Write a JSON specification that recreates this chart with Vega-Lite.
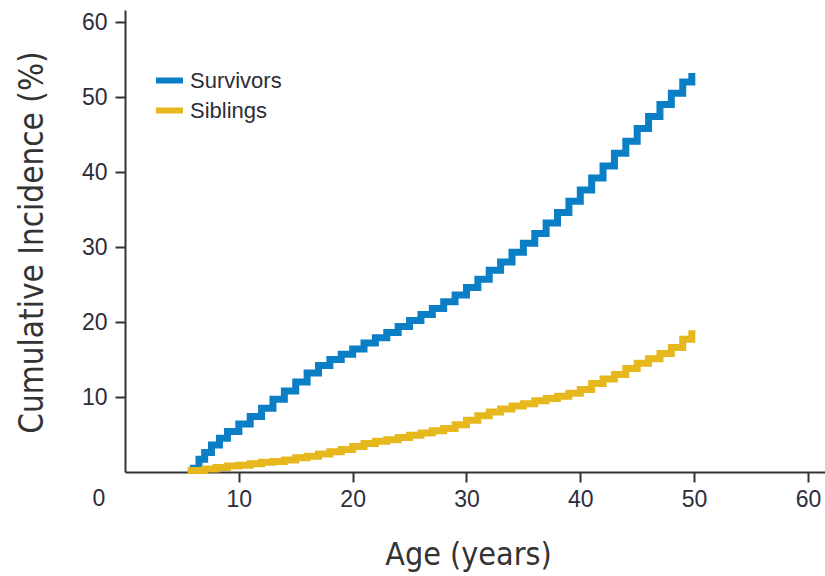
{
  "$schema": "https://vega.github.io/schema/vega-lite/v6.json",
  "width": 700,
  "height": 462,
  "autosize": {"type": "none"},
  "padding": {"left": 125, "top": 10, "right": 0, "bottom": 104},
  "background": "white",
  "config": {"view": {"stroke": null}},
  "datasets": {
    "curves": [
      {"group": "Survivors", "age": 5.7, "pct": 0.5},
      {"group": "Survivors", "age": 6.5, "pct": 1.7},
      {"group": "Survivors", "age": 7.0, "pct": 2.6},
      {"group": "Survivors", "age": 7.6, "pct": 3.6},
      {"group": "Survivors", "age": 8.3, "pct": 4.5},
      {"group": "Survivors", "age": 9.0, "pct": 5.4},
      {"group": "Survivors", "age": 10.0, "pct": 6.4},
      {"group": "Survivors", "age": 11.0, "pct": 7.4},
      {"group": "Survivors", "age": 12.0, "pct": 8.5},
      {"group": "Survivors", "age": 13.0, "pct": 9.7},
      {"group": "Survivors", "age": 14.0, "pct": 10.8},
      {"group": "Survivors", "age": 15.0, "pct": 12.0},
      {"group": "Survivors", "age": 16.0, "pct": 13.2},
      {"group": "Survivors", "age": 17.0, "pct": 14.2},
      {"group": "Survivors", "age": 18.0, "pct": 15.0},
      {"group": "Survivors", "age": 19.0, "pct": 15.7},
      {"group": "Survivors", "age": 20.0, "pct": 16.4},
      {"group": "Survivors", "age": 21.0, "pct": 17.2},
      {"group": "Survivors", "age": 22.0, "pct": 17.9},
      {"group": "Survivors", "age": 23.0, "pct": 18.6},
      {"group": "Survivors", "age": 24.0, "pct": 19.4},
      {"group": "Survivors", "age": 25.0, "pct": 20.2},
      {"group": "Survivors", "age": 26.0, "pct": 21.0},
      {"group": "Survivors", "age": 27.0, "pct": 21.8},
      {"group": "Survivors", "age": 28.0, "pct": 22.7},
      {"group": "Survivors", "age": 29.0, "pct": 23.6},
      {"group": "Survivors", "age": 30.0, "pct": 24.6},
      {"group": "Survivors", "age": 31.0, "pct": 25.7},
      {"group": "Survivors", "age": 32.0, "pct": 26.9},
      {"group": "Survivors", "age": 33.0, "pct": 28.0},
      {"group": "Survivors", "age": 34.0, "pct": 29.3},
      {"group": "Survivors", "age": 35.0, "pct": 30.5},
      {"group": "Survivors", "age": 36.0, "pct": 31.8},
      {"group": "Survivors", "age": 37.0, "pct": 33.2},
      {"group": "Survivors", "age": 38.0, "pct": 34.6},
      {"group": "Survivors", "age": 39.0, "pct": 36.1},
      {"group": "Survivors", "age": 40.0, "pct": 37.6},
      {"group": "Survivors", "age": 41.0, "pct": 39.2},
      {"group": "Survivors", "age": 42.0, "pct": 40.8},
      {"group": "Survivors", "age": 43.0, "pct": 42.5},
      {"group": "Survivors", "age": 44.0, "pct": 44.1},
      {"group": "Survivors", "age": 45.0, "pct": 45.8},
      {"group": "Survivors", "age": 46.0, "pct": 47.4},
      {"group": "Survivors", "age": 47.0, "pct": 49.0},
      {"group": "Survivors", "age": 48.0, "pct": 50.5},
      {"group": "Survivors", "age": 49.0, "pct": 52.0},
      {"group": "Survivors", "age": 49.8, "pct": 53.2},
      {"group": "Siblings", "age": 5.5, "pct": 0.2},
      {"group": "Siblings", "age": 7.0, "pct": 0.4},
      {"group": "Siblings", "age": 8.0, "pct": 0.6},
      {"group": "Siblings", "age": 9.0, "pct": 0.8},
      {"group": "Siblings", "age": 10.0, "pct": 0.9},
      {"group": "Siblings", "age": 11.0, "pct": 1.1},
      {"group": "Siblings", "age": 12.0, "pct": 1.3},
      {"group": "Siblings", "age": 13.0, "pct": 1.4},
      {"group": "Siblings", "age": 14.0, "pct": 1.6},
      {"group": "Siblings", "age": 15.0, "pct": 1.9},
      {"group": "Siblings", "age": 16.0, "pct": 2.1},
      {"group": "Siblings", "age": 17.0, "pct": 2.4},
      {"group": "Siblings", "age": 18.0, "pct": 2.7},
      {"group": "Siblings", "age": 19.0, "pct": 3.0},
      {"group": "Siblings", "age": 20.0, "pct": 3.4},
      {"group": "Siblings", "age": 21.0, "pct": 3.8},
      {"group": "Siblings", "age": 22.0, "pct": 4.1},
      {"group": "Siblings", "age": 23.0, "pct": 4.3},
      {"group": "Siblings", "age": 24.0, "pct": 4.6},
      {"group": "Siblings", "age": 25.0, "pct": 4.9},
      {"group": "Siblings", "age": 26.0, "pct": 5.2},
      {"group": "Siblings", "age": 27.0, "pct": 5.5},
      {"group": "Siblings", "age": 28.0, "pct": 5.8},
      {"group": "Siblings", "age": 29.0, "pct": 6.3},
      {"group": "Siblings", "age": 30.0, "pct": 6.9},
      {"group": "Siblings", "age": 31.0, "pct": 7.5},
      {"group": "Siblings", "age": 32.0, "pct": 8.0},
      {"group": "Siblings", "age": 33.0, "pct": 8.4},
      {"group": "Siblings", "age": 34.0, "pct": 8.8},
      {"group": "Siblings", "age": 35.0, "pct": 9.1},
      {"group": "Siblings", "age": 36.0, "pct": 9.5},
      {"group": "Siblings", "age": 37.0, "pct": 9.8},
      {"group": "Siblings", "age": 38.0, "pct": 10.1},
      {"group": "Siblings", "age": 39.0, "pct": 10.5},
      {"group": "Siblings", "age": 40.0, "pct": 11.0},
      {"group": "Siblings", "age": 41.0, "pct": 11.8},
      {"group": "Siblings", "age": 42.0, "pct": 12.4},
      {"group": "Siblings", "age": 43.0, "pct": 13.0},
      {"group": "Siblings", "age": 44.0, "pct": 13.8},
      {"group": "Siblings", "age": 45.0, "pct": 14.5},
      {"group": "Siblings", "age": 46.0, "pct": 15.1},
      {"group": "Siblings", "age": 47.0, "pct": 15.8},
      {"group": "Siblings", "age": 48.0, "pct": 16.6},
      {"group": "Siblings", "age": 49.0, "pct": 17.7},
      {"group": "Siblings", "age": 49.8, "pct": 18.9}
    ],
    "corner": [{"label": "0"}]
  },
  "layer": [
    {
      "data": {"name": "curves"},
      "mark": {"type": "line", "interpolate": "step-after", "strokeWidth": 7, "strokeCap": "butt", "strokeJoin": "miter"},
      "encoding": {
        "x": {
          "field": "age", "type": "quantitative",
          "scale": {"domain": [0, 61.5], "nice": false, "zero": false},
          "axis": {
            "title": "Age (years)",
            "values": [10, 20, 30, 40, 50, 60],
            "grid": false,
            "domainColor": "#333333", "domainWidth": 2,
            "tickColor": "#333333", "tickWidth": 2, "tickSize": 10,
            "labelFont": "Liberation Sans", "labelFontSize": 23, "labelColor": "#2d2d3a", "labelPadding": 6,
            "titleFont": "DejaVu Sans Condensed", "titleFontSize": 32, "titleFontWeight": "normal", "titleColor": "#333333",
            "titleX": 343, "titleY": 82, "titleBaseline": "middle", "titleAlign": "center"
          }
        },
        "y": {
          "field": "pct", "type": "quantitative",
          "scale": {"domain": [0, 61.6], "nice": false, "zero": false},
          "axis": {
            "title": "Cumulative Incidence (%)",
            "values": [10, 20, 30, 40, 50, 60],
            "grid": false,
            "domainColor": "#333333", "domainWidth": 2,
            "tickColor": "#333333", "tickWidth": 2, "tickSize": 10,
            "labelFont": "Liberation Sans", "labelFontSize": 23, "labelColor": "#2d2d3a", "labelPadding": 8,
            "titleFont": "DejaVu Sans Condensed", "titleFontSize": 33, "titleFontWeight": "normal", "titleColor": "#333333",
            "titleX": -93, "titleY": 232, "titleBaseline": "middle", "titleAlign": "center", "titleAngle": -90
          }
        },
        "color": {
          "field": "group", "type": "nominal",
          "scale": {"domain": ["Survivors", "Siblings"], "range": ["#0b7fc6", "#e6b81e"]},
          "legend": {
            "title": null,
            "orient": "none", "legendX": 28, "legendY": 54,
            "symbolType": "stroke", "symbolSize": 729, "symbolStrokeWidth": 6,
            "labelFont": "Liberation Sans", "labelFontSize": 22, "labelColor": "#2d2d3a",
            "labelOffset": 4, "rowPadding": 1, "padding": 0
          }
        }
      }
    },
    {
      "data": {"name": "corner"},
      "mark": {"type": "text", "font": "Liberation Sans", "fontSize": 23, "color": "#2d2d3a", "baseline": "middle", "align": "center"},
      "encoding": {
        "x": {"datum": -2.3, "type": "quantitative"},
        "y": {"datum": -3.6, "type": "quantitative"},
        "text": {"field": "label", "type": "nominal"}
      }
    }
  ]
}
